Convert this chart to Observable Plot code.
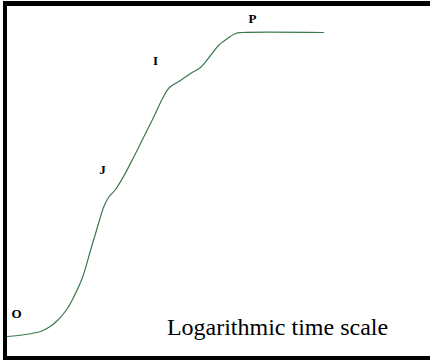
<!DOCTYPE html>
<html>
<head>
<meta charset="utf-8">
<script src="https://cdn.jsdelivr.net/npm/d3@7"></script>
<script src="https://cdn.jsdelivr.net/npm/@observablehq/plot@0.6"></script>
<style>
  html, body { margin: 0; padding: 0; background: #fff; overflow: hidden; }
  #chart {
    position: absolute; left: 3px; top: 1px;
    width: 427px;
    border-left: 4px solid #000;
    border-top: 5px solid #000;
    border-bottom: 4px solid #000;
    line-height: 0;
  }
  #chart svg text { font-family: "Liberation Serif", "Times New Roman", serif !important; }
</style>
</head>
<body>
<div id="chart"></div>
<script>
// OJIP fluorescence transient (time in ms, log scale; fluorescence in arbitrary units)
const times = [0.01, 0.0229, 0.0457, 0.0661, 0.1, 0.158, 0.209, 0.316, 0.457, 0.661, 0.832, 1.047,
               1.445, 2.09, 3.31, 5.25, 8.32, 12.6, 16.6, 28.8, 45.7, 72.4, 115, 166, 251, 363, 501, 20900];
const fluorescence = [20, 22, 25, 29, 36, 48, 59, 79, 106, 133, 149, 159,
                      167, 180, 199, 219, 239, 258, 268, 276, 283, 289, 301, 311, 318, 323, 324, 324];

const phaseNames = ["O", "J", "I", "P"];
const phaseTimes = [0.0151, 0.79, 9.1, 794];
const phaseLevels = [43, 187, 296, 338];

const axisLabel = ["Logarithmic time scale"];
const axisLabelTime = [2512];
const axisLabelLevel = [29];

const curve = times.map((t, i) => ({t, f: fluorescence[i]}));
const phases = phaseNames.map((n, i) => ({n, t: phaseTimes[i], f: phaseLevels[i]}));
const caption = axisLabel.map((s, i) => ({s, t: axisLabelTime[i], f: axisLabelLevel[i]}));

const serif = "'Liberation Serif', 'Times New Roman', serif";

const chart = Plot.plot({
  width: 427,
  height: 350,
  marginTop: 0, marginBottom: 0, marginLeft: 0, marginRight: 0,
  x: {type: "log", domain: [0.01, 1e6], range: [0, 400], axis: null},
  y: {domain: [0, 350], range: [350, 0], axis: null},
  style: {background: "#fff"},
  marks: [
    Plot.line(curve, {x: "t", y: "f", curve: "catmull-rom", stroke: "#3b7a4c", strokeWidth: 1.2}),
    Plot.text(phases, {x: "t", y: "f", text: "n", fontSize: 13, fontWeight: "bold", fontFamily: serif, fill: "#000"}),
    Plot.text(caption, {x: "t", y: "f", text: "s", fontSize: 24, fontFamily: serif, fill: "#000"})
  ]
});
document.getElementById("chart").appendChild(chart);
</script>
</body>
</html>
